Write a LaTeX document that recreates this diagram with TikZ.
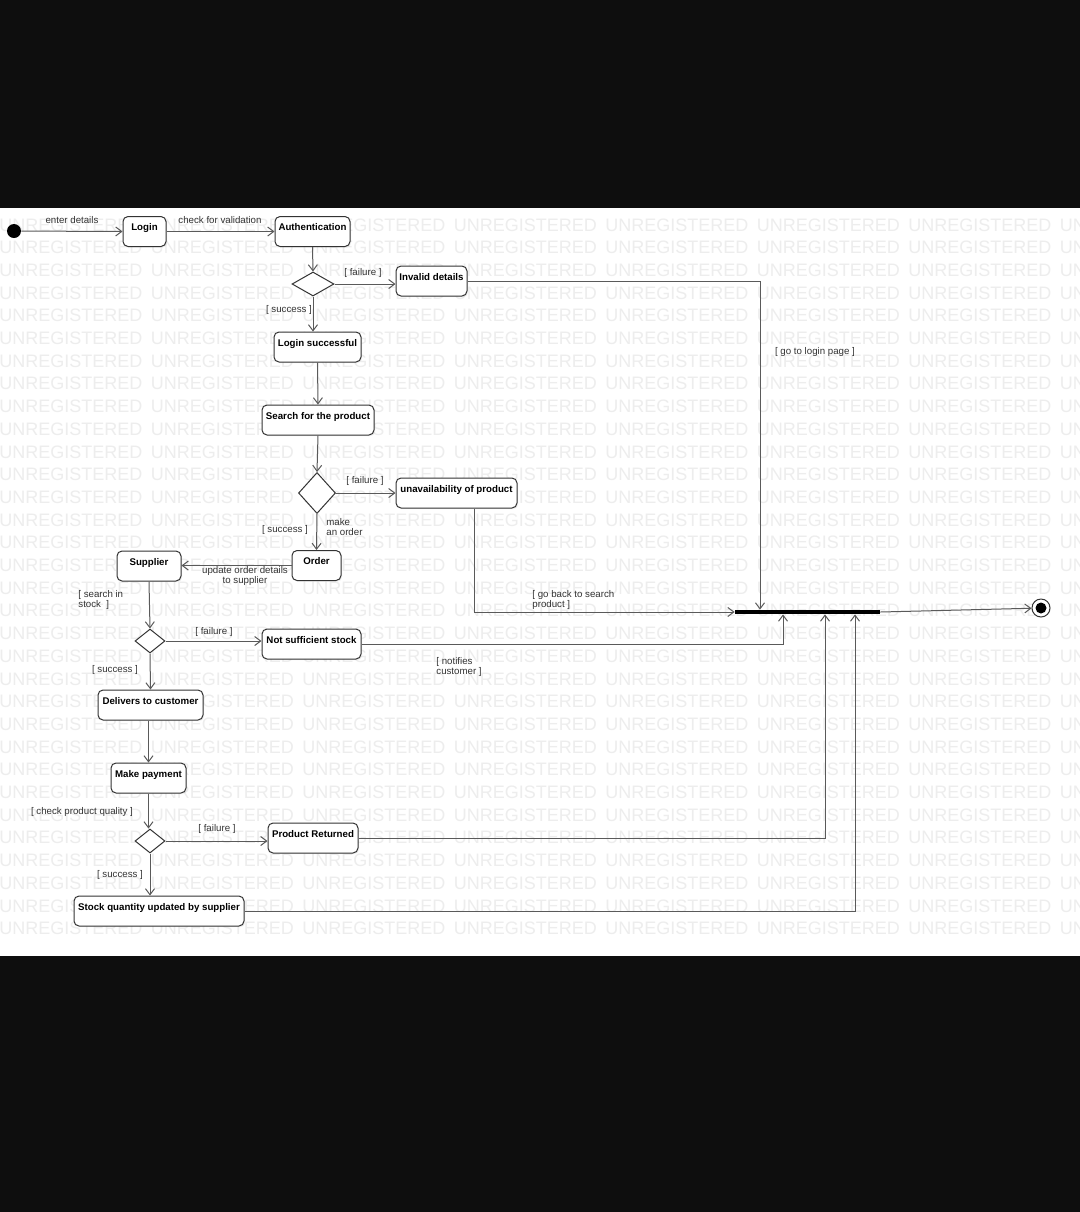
\documentclass[tikz,border=0pt]{standalone}
\usepackage{fontspec}
\setmainfont{Liberation Sans}
\usetikzlibrary{positioning,shapes.geometric,arrows.meta,shadows}

\definecolor{wmgray}{HTML}{EDEDED}
\definecolor{linegray}{HTML}{5A5A5A}
\definecolor{band}{HTML}{0E0E0E}

\tikzset{
  act/.style={draw=black!80,line width=0.5pt,rounded corners=2.5pt,fill=white,
    font=\fontsize{4.85}{5.5}\selectfont\bfseries,text height=3.5pt,text depth=4.5pt,
    inner ysep=3.5pt,inner xsep=0pt,
    drop shadow={shadow xshift=0.6pt,shadow yshift=-0.6pt,opacity=0.12}},
  choice/.style={diamond,draw=black!80,line width=0.5pt,fill=white,inner sep=0pt},
  lbl/.style={inner sep=0pt,text=black!80,font=\fontsize{4.85}{5}\selectfont},
  flow/.style={draw=linegray,line width=0.5pt,-{Straight Barb[length=3pt,width=4.5pt]}},
  wm/.style={anchor=base west,inner sep=0pt,text=wmgray,font=\fontsize{9}{9}\selectfont}
}

\begin{document}
\begin{tikzpicture}[x=0.5pt,y=-0.5pt]
\useasboundingbox (0,0) rectangle (1080,1212);
\fill[band] (0,0) rectangle (1080,208);
\fill[white] (0,208) rectangle (1080,956);
\fill[band] (0,956) rectangle (1080,1212);

% watermark
\foreach \r in {0,...,31}{
  \foreach \c in {0,...,7}{
    \node[wm] (wm-\r-\c) at (-1+151.5*\c,231+22.7*\r) {UNREGISTERED};
  }
}

% states
\node[circle,fill=black,minimum size=7pt,inner sep=0pt] (start) at (14,231) {};
\node[act,minimum width=21.5pt] (login) at (144.5,231.5) {Login};
\node[act,minimum width=37.5pt] (auth) at (312.5,231.5) {Authentication};
\node[choice,minimum width=21pt,minimum height=12pt] (d1) at (313,284) {};
\node[act,minimum width=35.5pt] (invalid) at (431.5,281) {Invalid details};
\node[act,minimum width=43.5pt] (logok) at (317.5,347) {Login successful};
\node[act,minimum width=56pt] (search) at (318,420) {Search for the product};
\node[choice,minimum width=18.5pt,minimum height=20.5pt] (d2) at (317,493) {};
\node[act,minimum width=60.5pt] (unavail) at (456.5,493) {unavailability of product};
\node[act,minimum width=24.5pt] (order) at (316.5,565.5) {Order};
\node[act,minimum width=32pt] (supplier) at (149,566) {Supplier};
\node[choice,minimum width=15pt,minimum height=12pt] (d3) at (150,641) {};
\node[act,minimum width=49.5pt] (notsuff) at (311.5,644) {Not sufficient stock};
\node[act,minimum width=52.5pt] (deliver) at (150.5,705) {Delivers to customer};
\node[act,minimum width=37.5pt] (payment) at (148.5,778) {Make payment};
\node[choice,minimum width=15pt,minimum height=12pt] (d4) at (150,841) {};
\node[act,minimum width=45pt] (returned) at (313,838) {Product Returned};
\node[act,minimum width=85pt] (stock) at (159,911) {Stock quantity updated by supplier};
\node[fill=black,minimum width=72.5pt,minimum height=2pt,inner sep=0pt] (bar) at (807.5,612) {};
\node[circle,draw=black!80,line width=0.5pt,fill=white,minimum size=9pt,inner sep=0pt] (final) at (1041,608) {};
\node[circle,fill=black,minimum size=5.5pt,inner sep=0pt] (finaldot) at (final.center) {};

\coordinate (j1) at (760,0);
\coordinate (j2) at (783,0);
\coordinate (j3) at (825,0);
\coordinate (j4) at (855,0);

% transitions
\draw[flow] (start) -- (login.west);
\draw[flow] (login.east) -- (auth.west);
\draw[flow] (auth.south) -- (d1.north);
\draw[flow] (d1.east) -- (d1.east -| invalid.west);
\draw[flow] (d1.south) -- (d1.south |- logok.north);
\draw[flow] (logok.south) -- (search.north);
\draw[flow] (search.south) -- (d2.north);
\draw[flow] (d2.east) -- (unavail.west);
\draw[flow] (d2.south) -- (order.north);
\draw[flow] (order.west) -- (order.west -| supplier.east);
\draw[flow] (supplier.south) -- (d3.north);
\draw[flow] (d3.east) -- (d3.east -| notsuff.west);
\draw[flow] (d3.south) -- (deliver.north);
\draw[flow] (payment.north |- deliver.south) -- (payment.north);
\draw[flow] (payment.south) -- (payment.south |- d4.north);
\draw[flow] (d4.east) -- (d4.east -| returned.west);
\draw[flow] (d4.south) -- (d4.south |- stock.north);
\draw[flow] (invalid.east) -| (bar.north -| j1);
\draw[flow] ([xshift=9pt]unavail.south) |- (bar.west);
\draw[flow] (notsuff.east) -| (bar.south -| j2);
\draw[flow] (returned.east) -| (bar.south -| j3);
\draw[flow] (stock.east) -| (bar.south -| j4);
\draw[flow] (bar.east) -- (final);

% guards
\node[lbl] (l-enter) at (72,220) {enter details};
\node[lbl] (l-check) at (220,220) {check for validation};
\node[lbl] (l-fail1) at (363,273) {[ failure ]};
\node[lbl] (l-succ1) at (289,310) {[ success ]};
\node[lbl] (l-login) at (815,352) {[ go to login page ]};
\node[lbl] (l-fail2) at (365,481) {[ failure ]};
\node[lbl] (l-succ2) at (285,530) {[ success ]};
\node[lbl,align=left,anchor=west] (l-make) at (326,527) {make\\an order};
\node[lbl,align=center] (l-update) at (245,576) {update order details\\to supplier};
\node[lbl,align=left,anchor=west] (l-back) at (532,600) {[ go back to search\\product ]};
\node[lbl,align=left,anchor=west] (l-search) at (78,600) {[ search in\\stock~ ]};
\node[lbl] (l-fail3) at (214,632) {[ failure ]};
\node[lbl,align=left,anchor=west] (l-notify) at (436,667) {[ notifies\\customer ]};
\node[lbl] (l-succ3) at (115,670) {[ success ]};
\node[lbl] (l-quality) at (82,812) {[ check product quality ]};
\node[lbl] (l-fail4) at (217,829) {[ failure ]};
\node[lbl] (l-succ4) at (120,875) {[ success ]};
\end{tikzpicture}
\end{document}
